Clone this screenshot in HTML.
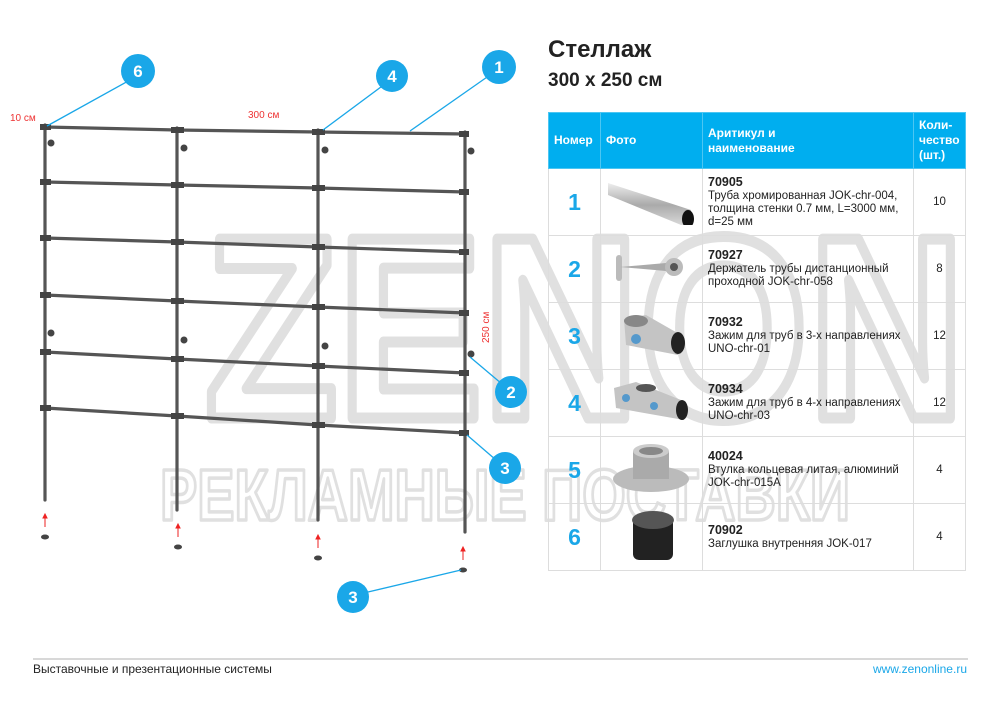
<!DOCTYPE html>
<html><head><meta charset="utf-8"><style>
body{margin:0;background:#fff;width:1000px;height:707px;overflow:hidden;position:relative;font-family:"Liberation Sans",sans-serif}
.t1{position:absolute;left:548px;top:36px;font-size:24px;font-weight:bold;color:#222}
.t2{position:absolute;left:548px;top:70px;font-size:19px;font-weight:bold;color:#222}
table{position:absolute;left:548px;top:112px;width:418px;border-collapse:collapse;font-size:11.5px;color:#222}
td,th{border:1px solid #ddd;padding:0 5px}
th{background:#00aeef;color:#fff;text-align:left;font-weight:bold;height:55px;border-color:#4cc6f2;line-height:15px;font-size:12px}
td{height:66px;line-height:13px}
td.n{color:#1aa7e8;font-size:23px;font-weight:bold;text-align:center}
td.q{text-align:center}
b{font-size:12.5px}
.ft{position:absolute;top:662px;font-size:12px}
</style></head><body>
<svg width="1000" height="707" style="position:absolute;left:0;top:0">
<g fill="none" stroke="#e0e0e0" stroke-linejoin="round">
<text x="205" y="418" font-family="Liberation Sans" font-weight="bold" font-size="260" stroke-width="11" textLength="760" lengthAdjust="spacingAndGlyphs">ZENON</text>
<text x="160" y="520" font-family="Liberation Sans" font-weight="bold" font-size="72" stroke-width="3.5" textLength="690" lengthAdjust="spacingAndGlyphs">РЕКЛАМНЫЕ ПОСТАВКИ</text>
</g>
<g stroke="#555" stroke-width="3.2" fill="none" stroke-linecap="round">
<line x1="45" y1="125" x2="45" y2="500"/><line x1="177" y1="128" x2="177" y2="510"/>
<line x1="318" y1="130" x2="318" y2="520"/><line x1="465" y1="132" x2="465" y2="532"/>
<polyline points="45,127 177,130 318,132 465,134"/>
<polyline points="45,182 177,185 318,188 465,192"/>
<polyline points="45,238 177,242 318,247 465,252"/>
<polyline points="45,295 177,301 318,307 465,313"/>
<polyline points="45,352 177,359 318,366 465,373"/>
<polyline points="45,408 177,416 318,425 465,433"/>
</g>
<g fill="#444">
<rect x="40" y="124" width="11" height="6"/><rect x="171" y="127" width="13" height="6"/><rect x="312" y="129" width="13" height="6"/><rect x="459" y="131" width="10" height="6"/>
<rect x="40" y="179" width="11" height="6"/><rect x="171" y="182" width="13" height="6"/><rect x="312" y="185" width="13" height="6"/><rect x="459" y="189" width="10" height="6"/>
<rect x="40" y="235" width="11" height="6"/><rect x="171" y="239" width="13" height="6"/><rect x="312" y="244" width="13" height="6"/><rect x="459" y="249" width="10" height="6"/>
<rect x="40" y="292" width="11" height="6"/><rect x="171" y="298" width="13" height="6"/><rect x="312" y="304" width="13" height="6"/><rect x="459" y="310" width="10" height="6"/>
<rect x="40" y="349" width="11" height="6"/><rect x="171" y="356" width="13" height="6"/><rect x="312" y="363" width="13" height="6"/><rect x="459" y="370" width="10" height="6"/>
<rect x="40" y="405" width="11" height="6"/><rect x="171" y="413" width="13" height="6"/><rect x="312" y="422" width="13" height="6"/><rect x="459" y="430" width="10" height="6"/>
<circle cx="51" cy="143" r="3.5"/><circle cx="184" cy="148" r="3.5"/><circle cx="325" cy="150" r="3.5"/><circle cx="471" cy="151" r="3.5"/>
<circle cx="51" cy="333" r="3.5"/><circle cx="184" cy="340" r="3.5"/><circle cx="325" cy="346" r="3.5"/><circle cx="471" cy="354" r="3.5"/>
<ellipse cx="45" cy="537" rx="4" ry="2.5"/><ellipse cx="178" cy="547" rx="4" ry="2.5"/><ellipse cx="318" cy="558" rx="4" ry="2.5"/><ellipse cx="463" cy="570" rx="4" ry="2.5"/>
</g>
<g stroke="#e22" stroke-width="1" fill="#e22">
<line x1="45" y1="527" x2="45" y2="517"/><polygon points="43,518 47,518 45,514"/>
<line x1="178" y1="537" x2="178" y2="527"/><polygon points="176,528 180,528 178,524"/>
<line x1="318" y1="548" x2="318" y2="538"/><polygon points="316,539 320,539 318,535"/>
<line x1="463" y1="560" x2="463" y2="550"/><polygon points="461,551 465,551 463,547"/>
</g>
<g fill="#e33" font-family="Liberation Sans" font-size="10">
<text x="10" y="121">10 см</text><text x="248" y="118">300 см</text>
<text transform="translate(489,343) rotate(-90)">250 см</text>
</g>
<g stroke="#1aa7e8" stroke-width="1.3">
<line x1="130" y1="80" x2="47" y2="126"/><line x1="385" y1="84" x2="323" y2="130"/>
<line x1="490" y1="75" x2="410" y2="131"/><line x1="502" y1="384" x2="470" y2="357"/>
<line x1="496" y1="460" x2="467" y2="435"/><line x1="368" y1="592" x2="461" y2="570"/>
</g>
<g fill="#1aa7e8"><circle cx="138" cy="71" r="17"/><circle cx="392" cy="76" r="16"/><circle cx="499" cy="67" r="17"/>
<circle cx="511" cy="392" r="16"/><circle cx="505" cy="468" r="16"/><circle cx="353" cy="597" r="16"/></g>
<g fill="#fff" font-family="Liberation Sans" font-weight="bold" font-size="17" text-anchor="middle">
<text x="138" y="77">6</text><text x="392" y="82">4</text><text x="499" y="73">1</text>
<text x="511" y="398">2</text><text x="505" y="474">3</text><text x="353" y="603">3</text></g>
<line x1="33" y1="659" x2="968" y2="659" stroke="#ccc" stroke-width="1.5"/>
</svg>
<div class="t1">Стеллаж</div>
<div class="t2">300 x 250 см</div>
<table>
<tr><th style="width:41px">Номер</th><th style="width:91px">Фото</th><th>Аритикул и<br>наименование</th><th style="width:41px">Коли-<br>чество<br>(шт.)</th></tr>
<tr><td class="n">1</td><td><svg width="90" height="50"><defs><linearGradient id="g" x1="0" y1="0" x2="0" y2="1"><stop offset="0" stop-color="#eee"/><stop offset=".5" stop-color="#aaa"/><stop offset="1" stop-color="#ddd"/></linearGradient></defs><polygon points="2,8 85,35 80,52 2,20" fill="url(#g)"/><ellipse cx="82" cy="44" rx="6" ry="9" fill="#111"/></svg></td><td><b>70905</b><br>Труба хромированная JOK-chr-004, толщина стенки 0.7 мм, L=3000 мм, d=25 мм</td><td class="q">10</td></tr>
<tr><td class="n">2</td><td><svg width="90" height="40"><rect x="10" y="8" width="6" height="26" rx="3" fill="#bbb"/><path d="M14 20 L60 16 L60 24 Z" fill="#aaa"/><circle cx="68" cy="20" r="9" fill="#bbb"/><circle cx="68" cy="20" r="4" fill="#555"/></svg></td><td><b>70927</b><br>Держатель трубы дистанционный проходной JOK-chr-058</td><td class="q">8</td></tr>
<tr><td class="n">3</td><td><svg width="90" height="50"><path d="M18 10 L40 6 L75 26 L72 46 L20 36 Z" fill="#c4c4c4"/><ellipse cx="30" cy="12" rx="12" ry="6" fill="#888"/><ellipse cx="72" cy="34" rx="7" ry="11" fill="#222"/><circle cx="30" cy="30" r="5" fill="#59c"/></svg></td><td style="white-space:nowrap"><b>70932</b><br>Зажим для труб в 3-х направлениях<br>UNO-chr-01</td><td class="q">12</td></tr>
<tr><td class="n">4</td><td><svg width="90" height="50"><path d="M8 12 L30 6 L80 26 L78 44 L10 32 Z" fill="#c4c4c4"/><ellipse cx="40" cy="12" rx="10" ry="4" fill="#555"/><ellipse cx="76" cy="34" rx="6" ry="10" fill="#222"/><circle cx="20" cy="22" r="4" fill="#59c"/><circle cx="48" cy="30" r="4" fill="#59c"/></svg></td><td style="white-space:nowrap"><b>70934</b><br>Зажим для труб в 4-х направлениях<br>UNO-chr-03</td><td class="q">12</td></tr>
<tr><td class="n">5</td><td><svg width="90" height="55"><ellipse cx="45" cy="38" rx="38" ry="13" fill="#bbb"/><rect x="27" y="10" width="36" height="28" fill="#aaa"/><ellipse cx="45" cy="10" rx="18" ry="7" fill="#ccc"/><ellipse cx="45" cy="10" rx="12" ry="4" fill="#888"/></svg></td><td><b>40024</b><br>Втулка кольцевая литая, алюминий JOK-chr-015A</td><td class="q">4</td></tr>
<tr><td class="n">6</td><td><svg width="90" height="55"><rect x="27" y="10" width="40" height="42" rx="6" fill="#222"/><ellipse cx="47" cy="12" rx="21" ry="9" fill="#555"/></svg></td><td><b>70902</b><br>Заглушка внутренняя JOK-017</td><td class="q">4</td></tr>
</table>
<div class="ft" style="left:33px;color:#222">Выставочные и презентационные системы</div>
<div class="ft" style="right:33px;color:#1aa7e8">www.zenonline.ru</div>
</body></html>
